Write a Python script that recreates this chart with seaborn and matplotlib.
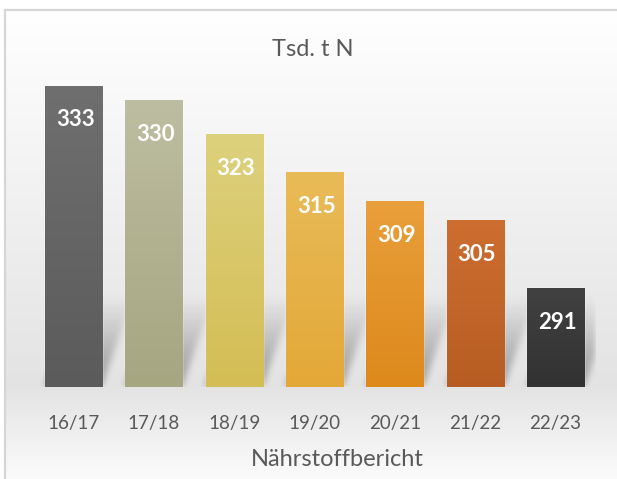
import numpy as np
import pandas as pd
import matplotlib
matplotlib.use("Agg")
import matplotlib.pyplot as plt
import seaborn as sns
from matplotlib.colors import to_rgb
from matplotlib.patches import Rectangle

# ---- data ----
categories = ["16/17", "17/18", "18/19", "19/20", "20/21", "21/22", "22/23"]
values = [333, 330, 323, 315, 309, 305, 291]
title_text = "Tsd. t N"
xlabel_text = "Nährstoffbericht"
top_colors = ["#6f6f6f", "#bdbda1", "#ddd17d", "#e9bb58", "#e99f3b", "#cd6e30", "#414141"]
bottom_colors = ["#5b5b5b", "#a6a681", "#d4bd54", "#e3a838", "#dd891b", "#b75d23", "#323232"]

sns.set_theme(style="white")
plt.rcParams['font.family'] = ['Lato', 'DejaVu Sans']

W, H = 617, 479
fig = plt.figure(figsize=(W / 100, H / 100), dpi=100)

# ---- background with gradient and frame ----
bg = fig.add_axes([0, 0, 1, 1], zorder=-5)
bg.set_axis_off()
ys = np.arange(H)
v = np.interp(ys, [0, 10, 385, 479], [1.0, 1.0, 0.89, 0.985])
img = np.repeat(v[:, None], W, axis=1)
img[:10, :] = 1.0
img[:, :5] = 1.0
bg.imshow(np.dstack([img] * 3), extent=[0, W, 0, H], origin="upper", aspect="auto")
bg.add_patch(Rectangle((5, -5), W + 10, H - 10 + 5, fill=False, edgecolor="#d6d6d6", lw=1.6))
bg.set_xlim(0, W)
bg.set_ylim(0, H)

# ---- main axes ----
px_per_unit = 202 / 42
base_px = 387
top_px = 60
ax_left, ax_right = 33.3, 595.7
ax = fig.add_axes([ax_left / W, (H - base_px) / H, (ax_right - ax_left) / W, (base_px - top_px) / H])
ax.patch.set_alpha(0)
ylo = 333 - (base_px - 86) / px_per_unit
yhi = ylo + (base_px - top_px) / px_per_unit

df = pd.DataFrame({"period": categories, "value": values})
sns.barplot(data=df, x="period", y="value", hue="period", palette=bottom_colors,
            legend=False, width=0.71, saturation=1, ax=ax, zorder=2)
ax.set_xlim(-0.5, len(categories) - 0.5)
ax.set_ylim(ylo, yhi)

# gradient fill of bars
for p, ct, cb in zip(ax.patches, top_colors, bottom_colors):
    x0 = p.get_x()
    x1 = x0 + p.get_width()
    top = p.get_y() + p.get_height()
    t = np.linspace(0, 1, 128)[:, None]
    grad = (1 - t) * np.array(to_rgb(ct)) + t * np.array(to_rgb(cb))
    grad = grad[:, None, :]
    ax.imshow(grad, extent=[x0, x1, ylo, top], origin="upper", aspect="auto", zorder=3)

# shadows (perspective, blurred)
aw = int(round(ax_right - ax_left))
ah = base_px - top_px
alpha = np.zeros((ah, aw))
k = 0.36
for p in ax.patches:
    x0 = p.get_x()
    x1 = x0 + p.get_width()
    top = p.get_y() + p.get_height()
    px0 = (x0 + 0.5) / len(categories) * aw
    px1 = (x1 + 0.5) / len(categories) * aw
    hpx = (top - ylo) * px_per_unit
    hs = int(min(hpx, 90))
    for d in range(hs):
        r = ah - 1 - d
        c0 = int(px0 + k * d)
        c1 = int(min(aw, px1 + k * d))
        a = 0.6 * (1 - d / hs) ** 1.0
        alpha[r, c0:c1] = np.maximum(alpha[r, c0:c1], a)

def box_blur(a, r):
    ker = np.ones(2 * r + 1) / (2 * r + 1)
    a = np.apply_along_axis(lambda m: np.convolve(m, ker, mode="same"), 0, a)
    a = np.apply_along_axis(lambda m: np.convolve(m, ker, mode="same"), 1, a)
    return a

alpha = box_blur(alpha, 4)
alpha = box_blur(alpha, 3)
shadow = np.zeros((ah, aw, 4))
shadow[..., :3] = 0.4
shadow[..., 3] = alpha
ax.imshow(shadow, extent=[-0.5, len(categories) - 0.5, ylo, yhi], origin="upper",
          aspect="auto", zorder=1)
ax.set_xlim(-0.5, len(categories) - 0.5)
ax.set_ylim(ylo, yhi)

# value labels
for p, val in zip(ax.patches, values):
    cx = p.get_x() + p.get_width() / 2
    ax.text(cx + 0.02, val - 34 / px_per_unit, str(val), ha="center", va="center",
            color="white", fontsize=16, fontweight="bold", zorder=5)

for s in ax.spines.values():
    s.set_visible(False)
ax.set_yticks([])
ax.set_xlabel("")
ax.set_ylabel("")
ax.tick_params(axis="x", length=0, pad=20, labelsize=13.5, labelcolor="#595959")

fig.text(313 / W, 1 - 49 / H, title_text, ha="center", va="center", fontsize=17, color="#595959")
fig.text(337 / W, 1 - 460 / H, xlabel_text, ha="center", va="center", fontsize=17, color="#595959")

fig.savefig("out.png", dpi=100)
